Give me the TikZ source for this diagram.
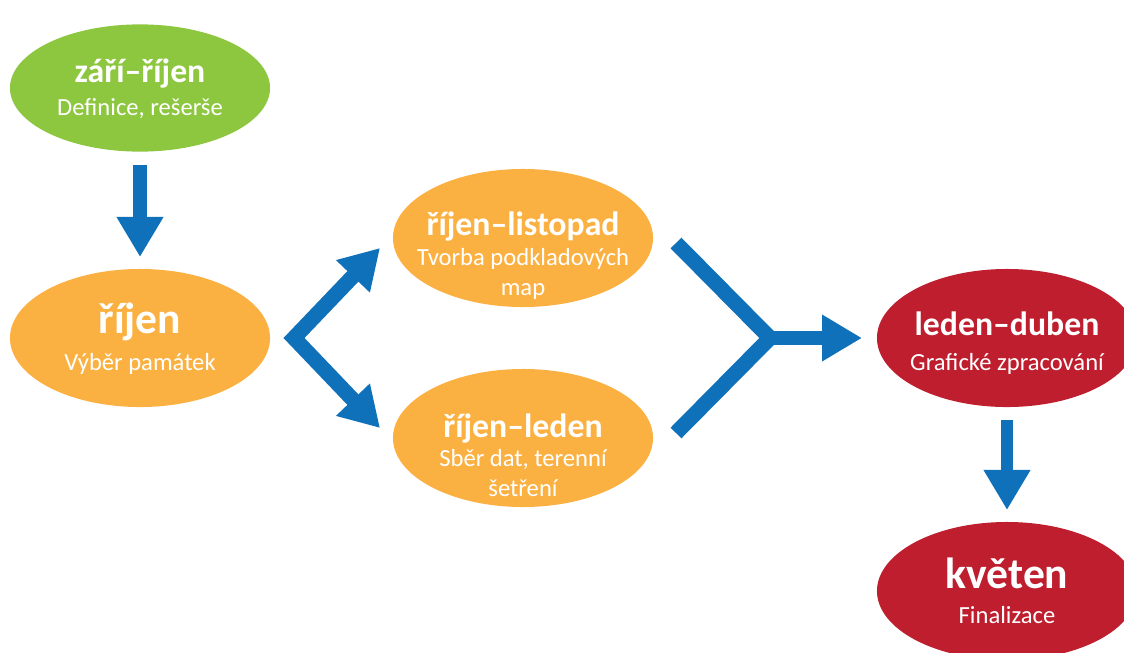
\documentclass[tikz,border=0pt]{standalone}
\usepackage{fontspec}
\setmainfont{Carlito}
\usepackage{tikz}
\usetikzlibrary{shapes.geometric,arrows.meta}

\definecolor{zelena}{HTML}{8DC63F}
\definecolor{oranzova}{HTML}{FBB142}
\definecolor{cervena}{HTML}{BE1E2D}
\definecolor{modra}{HTML}{0F71B9}

\tikzset{
  stage/.style={ellipse, minimum width=6.5cm, minimum height=3.45cm, inner sep=0pt},
  title/.style={text=white, anchor=base, font=\fontsize{24}{28}\selectfont\bfseries},
  bigtitle/.style={text=white, anchor=base, font=\fontsize{31}{36}\selectfont\bfseries},
  sub/.style={text=white, anchor=base, font=\fontsize{17.5}{21.3}\selectfont},
  flow/.style={draw=modra, line width=0.37cm, -{Triangle[length=1cm, width=1.1cm]}},
  fork/.style={draw=modra, line width=0.38cm, line join=miter,
    {Triangle[length=0.98cm, width=1.1cm]}-{Triangle[length=0.98cm, width=1.1cm]}},
  merge/.style={draw=modra, line width=0.38cm, line join=miter}
}

\begin{document}
\begin{tikzpicture}[x=0.025cm, y=-0.025cm]
\useasboundingbox (0,0) rectangle (1124,652);

%% stages
\node[stage, fill=zelena, minimum height=3.18cm] (zari) at (140,88) {};
\node[title] (zarititle) at (140,82) {září–říjen};
\node[sub] (zarisub) at (140,115) {Definice, rešerše};

\node[stage, fill=oranzova] (rijen) at (140,338) {};
\node[bigtitle] (rijentitle) at (140,333) {říjen};
\node[sub] (rijensub) at (140,370) {Výběr památek};

\node[stage, fill=oranzova] (listopad) at (523,238) {};
\node[title] (listopadtitle) at (523,235) {říjen–listopad};
\node[sub] (listopadsub1) at (523,265) {Tvorba podkladových};
\node[sub] (listopadsub2) at (523,295) {map};

\node[stage, fill=oranzova] (leden) at (523,438) {};
\node[title] (ledentitle) at (523,437) {říjen–leden};
\node[sub] (ledensub1) at (523,466) {Sběr dat, terenní};
\node[sub] (ledensub2) at (523,496) {šetření};

\node[stage, fill=cervena] (duben) at (1007,338) {};
\node[title] (dubentitle) at (1007,335) {leden–duben};
\node[sub] (dubensub) at (1007,370) {Grafické zpracování};

\node[stage, fill=cervena] (kveten) at (1007,591) {};
\node[bigtitle] (kvetentitle) at (1007,588) {květen};
\node[sub] (kvetensub) at (1007,623) {Finalizace};

%% arrows
\coordinate (zaristart) at (140,165);
\coordinate (rijentip) at (140,257);
\coordinate (forkup) at (380,248);
\coordinate (forkmid) at (294,338);
\coordinate (forkdown) at (380,428);
\coordinate (mergeup) at (676,243);
\coordinate (mergemid) at (770,338);
\coordinate (mergedown) at (676,433);
\coordinate (dubentip) at (862,338);
\coordinate (dubenstart) at (1007,420);
\coordinate (kvetentip) at (1007,510);

\draw[flow] (zaristart) -- (rijentip);
\draw[fork] (forkup) -- (forkmid) -- (forkdown);
\draw[merge] (mergeup) -- (mergemid) -- (mergedown);
\draw[flow, line width=0.33cm] (mergemid) -- (dubentip);
\draw[flow, line width=0.31cm] (dubenstart) -- (kvetentip);

\end{tikzpicture}
\end{document}
